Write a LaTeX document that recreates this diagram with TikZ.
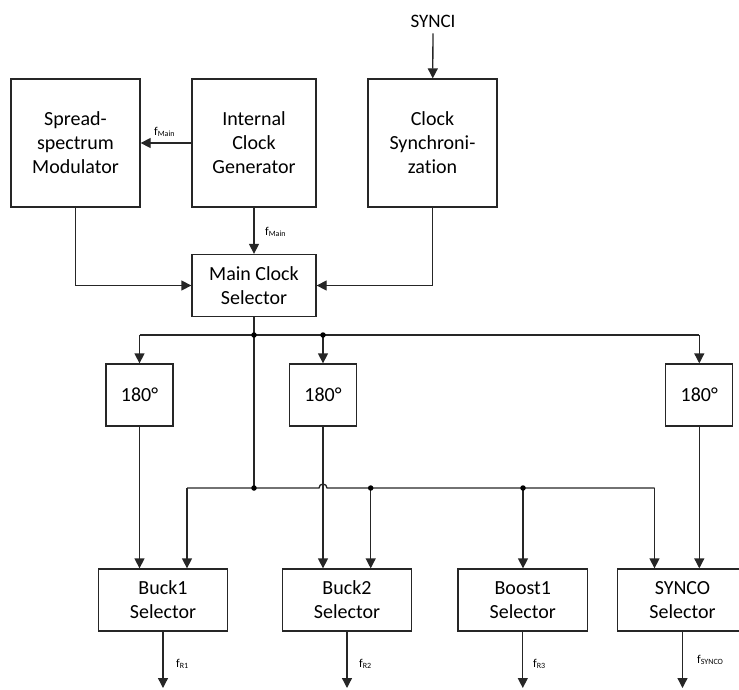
\documentclass[tikz,border=0pt]{standalone}
\usepackage{fontspec}
\setmainfont{Carlito}[Ligatures={NoCommon,NoRare,NoContextual}]
\usetikzlibrary{arrows.meta,calc}
\newcommand{\mysubf}[1]{f\raisebox{-1.5pt}{\fontsize{8}{9}\selectfont #1}}
\begin{document}
\begin{tikzpicture}[x=1pt,y=-1pt,
  blk/.style={draw=black!85, line width=1.3pt, inner sep=0pt, align=center, font=\fontsize{20}{24}\selectfont},
  conn/.style={draw=black!85, line width=1.3pt, -{Triangle[length=10pt,width=10pt]}},
  wire/.style={draw=black!85, line width=1.3pt},
  jdot/.style={circle, fill=black, inner sep=0pt, minimum size=5.5pt},
  lbl/.style={inner sep=0pt, anchor=west, font=\fontsize{12}{14}\selectfont}]
\useasboundingbox (0,0) rectangle (739,689);
\clip (0,0) rectangle (739,689);

% top row
\node[inner sep=0pt, font=\fontsize{19}{22}\selectfont] (synci) at (433,21) {SYNCI};
\node[blk, minimum width=129pt, minimum height=128pt] (ssm) at (75.5,143) {Spread-\\spectrum\\Modulator};
\node[blk, minimum width=124pt, minimum height=128pt] (icg) at (254,143) {Internal\\Clock\\Generator};
\node[blk, minimum width=129pt, minimum height=128pt] (cs) at (432.5,143) {Clock\\Synchroni-\\zation};
\node[blk, minimum width=124pt, minimum height=62pt] (mcs) at (254,285.5) {Main Clock\\Selector};

% phase shifters
\node[blk, minimum width=67pt, minimum height=62pt] (p1) at (139.5,395) {180°};
\node[blk, minimum width=67pt, minimum height=62pt] (p2) at (323,395) {180°};
\node[blk, minimum width=67pt, minimum height=62pt] (p3) at (699.3,395) {180°};

% selectors
\node[blk, minimum width=129.5pt, minimum height=62pt] (b1) at (163,600) {Buck1\\Selector};
\node[blk, minimum width=129.5pt, minimum height=62pt] (b2) at (347,600) {Buck2\\Selector};
\node[blk, minimum width=129.5pt, minimum height=62pt] (b3) at (522.8,600) {Boost1\\Selector};
\node[blk, minimum width=129.5pt, minimum height=62pt] (b4) at (682.5,600) {SYNCO\\Selector};

% junctions
\coordinate (tb1) at (139.5,335);
\coordinate (tj1) at (254,335);
\coordinate (tj2) at (323,335);
\coordinate (tb3) at (699.3,335);
\coordinate (lb1) at (187,488);
\coordinate (lj1) at (254,488);
\coordinate (lj2) at (370.7,488);
\coordinate (lj3) at (523,488);
\coordinate (lb4) at (654.5,488);
\coordinate (ob) at (0,688);

% upper connectors
\draw[conn, shorten <=6pt] (synci) -- (cs);
\draw[conn] (icg) -- (ssm);
\draw[conn] (icg) -- (mcs);
\draw[conn] (ssm.south) |- (mcs.west);
\draw[conn] (cs.south) |- (mcs.east);
\draw[wire] (mcs.south) -- (lj1);

% top bus
\draw[wire] (tb1) -- (tb3);
\draw[conn] (tb1) -- (p1.north);
\draw[conn] (tj2) -- (p2.north);
\draw[conn] (tb3) -- (p3.north);
\draw[conn] (p1.south) -- (p1.south |- b1.north);
\draw[conn] (p2.south) -- (p2.south |- b2.north);
\draw[conn] (p3.south) -- (p3.south |- b4.north);

% lower bus with hop
\draw[wire] (lb1) -- ($(p2.south |- lb1)+(-4,0)$) arc[start angle=180,end angle=360,radius=4] -- (lb4);
\draw[conn] (lb1) -- (lb1 |- b1.north);
\draw[conn] (lj2) -- (lj2 |- b2.north);
\draw[conn] (lj3) -- (lj3 |- b3.north);
\draw[conn] (lb4) -- (lb4 |- b4.north);

% outputs
\draw[conn] (b1.south) -- (b1.south |- ob);
\draw[conn] (b2.south) -- (b2.south |- ob);
\draw[conn] (b3.south) -- (b3.south |- ob);
\draw[conn] (b4.south) -- (b4.south |- ob);

% dots
\node[jdot] (d1) at (tj1) {};
\node[jdot] (d2) at (tj2) {};
\node[jdot] (d3) at (lj1) {};
\node[jdot] (d4) at (lj2) {};
\node[jdot] (d5) at (lj3) {};

% labels
\node[lbl] (lm1) at (154,132) {\mysubf{Main}};
\node[lbl] (lm2) at (265,232) {\mysubf{Main}};
\node[lbl] (lr1) at (176,664) {\mysubf{R1}};
\node[lbl] (lr2) at (359,664) {\mysubf{R2}};
\node[lbl] (lr3) at (533,664) {\mysubf{R3}};
\node[lbl] (lsy) at (697,660) {\mysubf{SYNCO}};
\end{tikzpicture}
\end{document}
